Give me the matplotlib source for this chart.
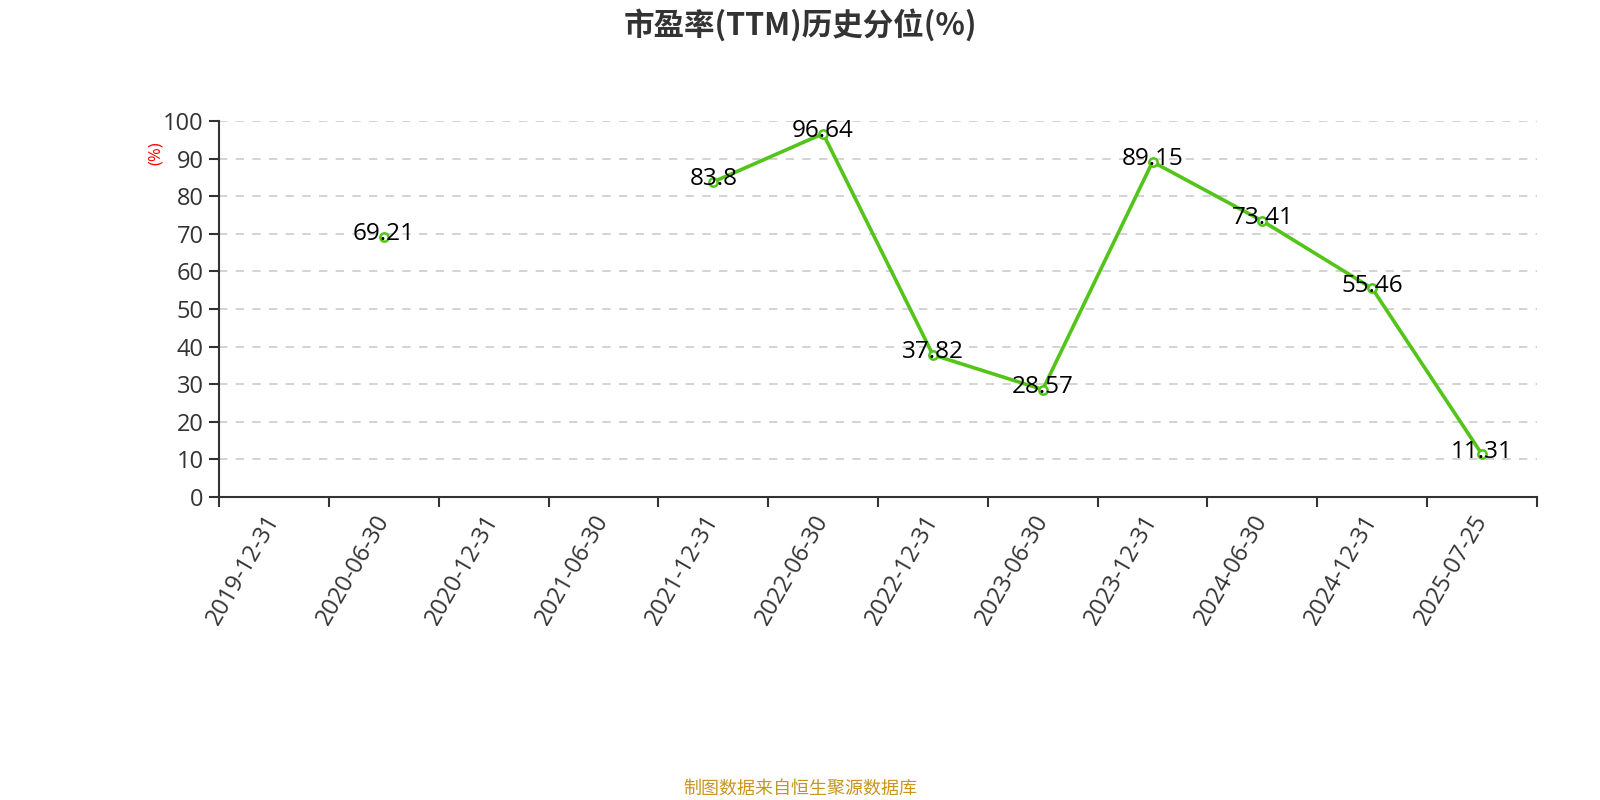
import numpy as np
import matplotlib
matplotlib.use("Agg")
import matplotlib.pyplot as plt

plt.rcParams['font.family'] = ['Open Sans', 'Noto Sans CJK SC', 'DejaVu Sans']

dates = ["2019-12-31", "2020-06-30", "2020-12-31", "2021-06-30", "2021-12-31",
         "2022-06-30", "2022-12-31", "2023-06-30", "2023-12-31", "2024-06-30",
         "2024-12-31", "2025-07-25"]
pe_pct = [np.nan, 69.21, np.nan, np.nan, 83.8, 96.64, 37.82, 28.57,
          89.15, 73.41, 55.46, 11.31]
labels = ["", "69.21", "", "", "83.8", "96.64", "37.82", "28.57",
          "89.15", "73.41", "55.46", "11.31"]

green = "#52c41a"
axis_col = "#333333"

fig = plt.figure(figsize=(16, 8), dpi=100)
ax = fig.add_axes([0.1369, 0.37875, 0.8237, 0.47])

x = np.arange(len(dates))
ax.plot(x, pe_pct, color=green, lw=2.6, marker='o', ms=6,
        markerfacecolor='white', markeredgecolor=green, markeredgewidth=1.8,
        zorder=3)

for xi, v, lab in zip(x, pe_pct, labels):
    if lab:
        ax.annotate(lab, (xi, v), xytext=(0, 2), textcoords='offset points',
                    ha='center', va='center', fontsize=17.5, color='black',
                    zorder=4)

ax.set_xlim(-0.5, len(dates) - 0.5)
ax.set_ylim(0, 100)
ax.set_yticks(range(0, 101, 10))
ax.tick_params(axis='y', labelsize=17, colors=axis_col, length=7, width=1.5,
               pad=4)
ax.grid(axis='y', color='#cccccc', linestyle=(0, (5, 5)), lw=1.2)
ax.set_axisbelow(True)

ax.set_xticks(x)
ax.set_xticklabels(dates, rotation=60, ha='right', va='center',
                   rotation_mode='anchor', fontsize=17, color=axis_col)
ax.tick_params(axis='x', which='major', length=0, pad=14)
ax.set_xticks(np.arange(-0.5, len(dates)), minor=True)
ax.tick_params(axis='x', which='minor', length=7, width=1.5, color=axis_col)

for s in ['top', 'right']:
    ax.spines[s].set_visible(False)
for s in ['left', 'bottom']:
    ax.spines[s].set_color(axis_col)
    ax.spines[s].set_linewidth(1.5)

ax.set_ylabel("(%)", color='red', fontsize=12)
ax.yaxis.set_label_coords(-0.042, 0.915)

fig.text(0.5, 0.969, "市盈率(TTM)历史分位(%)", ha='center', va='center',
         fontsize=22, fontweight='bold', color=axis_col,
         family=['Noto Sans CJK SC', 'DejaVu Sans'])
fig.text(0.5, 0.014, "制图数据来自恒生聚源数据库", ha='center', va='center',
         fontsize=13, color='#c8961e',
         family=['Noto Sans CJK SC', 'DejaVu Sans'])

fig.savefig("out.png", dpi=100)
